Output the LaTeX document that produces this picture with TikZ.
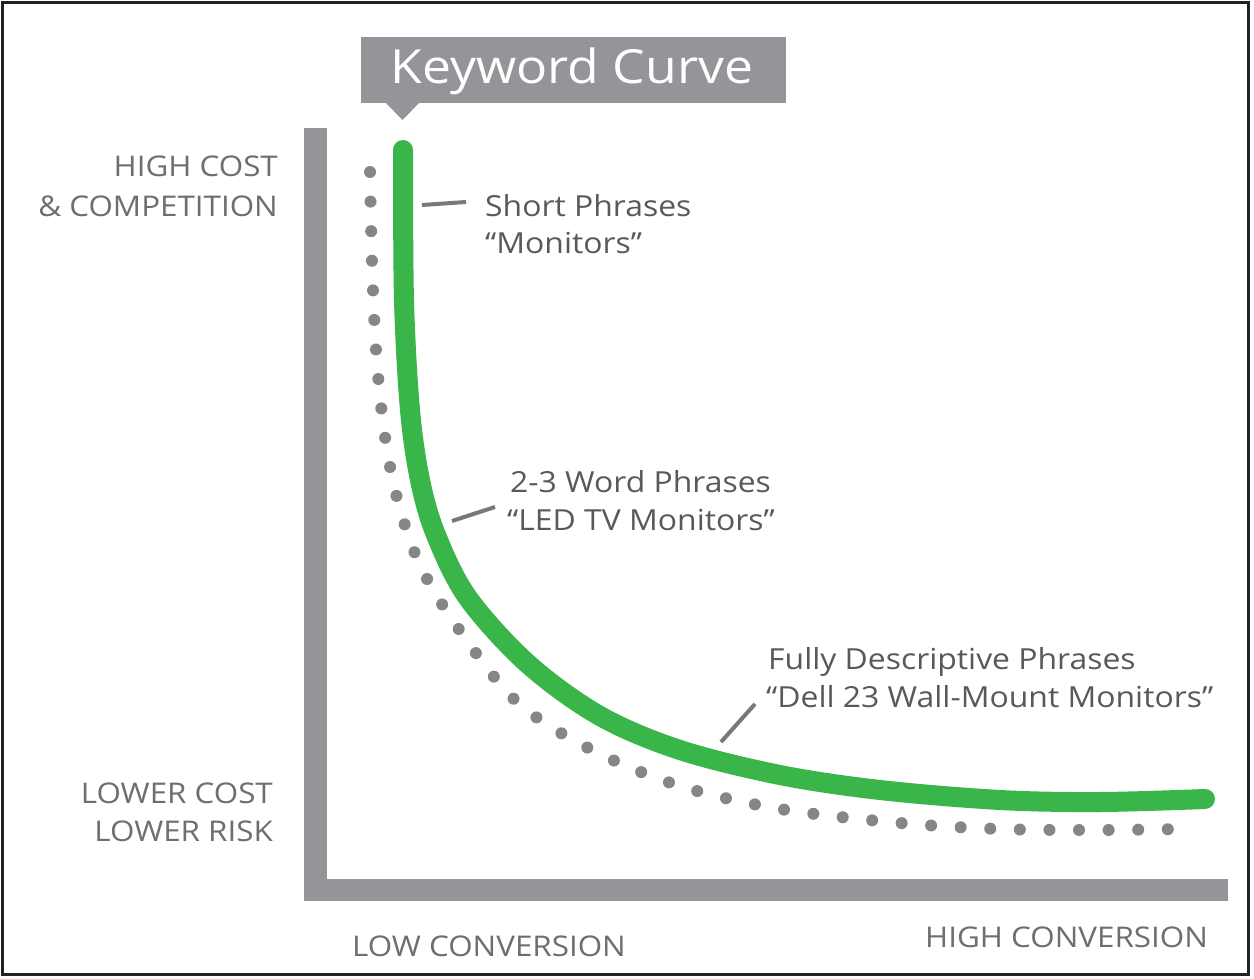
\documentclass[tikz,border=0pt]{standalone}
\usepackage{fontspec}
\setmainfont[FakeStretch=1.1]{Open Sans}
\definecolor{axisgray}{HTML}{939598}
\definecolor{curvegreen}{HTML}{39B54A}
\definecolor{labeltext}{HTML}{58595B}
\definecolor{axistext}{HTML}{6D6E71}
\definecolor{dotgray}{HTML}{858689}
\definecolor{leadgray}{HTML}{77787B}
\definecolor{framecol}{HTML}{222222}
\tikzset{
  axislabel/.style={inner sep=0pt, text=axistext, font=\fontsize{28.5}{32}\selectfont},
  phrase/.style={inner sep=0pt, text=labeltext, font=\fontsize{29}{33}\selectfont, anchor=base west},
  leader/.style={draw=leadgray, line width=4pt},
  barfill/.style={fill=axisgray, draw=none},
}
\begin{document}
\begin{tikzpicture}[x=1pt,y=-1pt]
\useasboundingbox (0,0) rectangle (1254,979);
\fill[white] (0,0) rectangle (1254,979);
% frame
\draw[framecol, line width=3pt] (2.5,2.5) rectangle (1248.5,974.5);
% axes
\fill[barfill] (304,128) rectangle (327,901);
\fill[barfill] (304,879) rectangle (1228,901);
% title box with pointer
\fill[barfill] (361,37) rectangle (786,103);
\fill[barfill] (385,102) -- (420,102) -- (402.5,120) -- cycle;
\node[inner sep=0pt, text=white, font=\fontsize{47}{50}\selectfont] (title) at (572,71) {Keyword Curve};
% dotted curve
\draw[dotgray, line width=12pt, line cap=round, dash pattern=on 0pt off 29.6pt]
  plot[smooth, tension=0.55] coordinates {(370,172) (372,262) (376,350) (384,430) (397,498) (420,565) (458,628) (517,702) (592,750) (680,786) (780,809) (900,823) (1000,829) (1100,830) (1182,829)};
% green curve
\draw[curvegreen, line width=20pt, line cap=round]
  plot[smooth, tension=0.55] coordinates {(403,150) (404,300) (410,410) (420,480) (436,535) (468,598) (528,664) (600,716) (680,750) (780,775) (880,790) (1000,800) (1100,802) (1205,799)};
% y-axis labels
\node[axislabel, anchor=base east] (hc1) at (278,177) {HIGH COST};
\node[axislabel, anchor=base east] (hc2) at (278,217) {\& COMPETITION};
\node[axislabel, anchor=base east] (lc1) at (273,803) {LOWER COST};
\node[axislabel, anchor=base east] (lc2) at (273,841) {LOWER RISK};
% x-axis labels
\node[axislabel, anchor=base west] (lowc) at (352,956) {LOW CONVERSION};
\node[axislabel, anchor=base west] (highc) at (925,947) {HIGH CONVERSION};
% phrase labels
\node[phrase] (sp1) at (485,216) {Short Phrases};
\node[phrase] (sp2) at (485,253) {“Monitors”};
\node[phrase] (wp1) at (510,492) {2-3 Word Phrases};
\node[phrase] (wp2) at (507,530) {“LED TV Monitors”};
\node[phrase] (fp1) at (768,669) {Fully Descriptive Phrases};
\node[phrase] (fp2) at (766,707) {“Dell 23 Wall-Mount Monitors”};
% leaders
\coordinate (spA) at (422,205);
\coordinate (spB) at (466,202);
\coordinate (wpA) at (452,521);
\coordinate (wpB) at (495,507);
\coordinate (fpA) at (721,742);
\coordinate (fpB) at (755,704);
\draw[leader] (spA) -- (spB);
\draw[leader] (wpA) -- (wpB);
\draw[leader] (fpA) -- (fpB);
\end{tikzpicture}
\end{document}
